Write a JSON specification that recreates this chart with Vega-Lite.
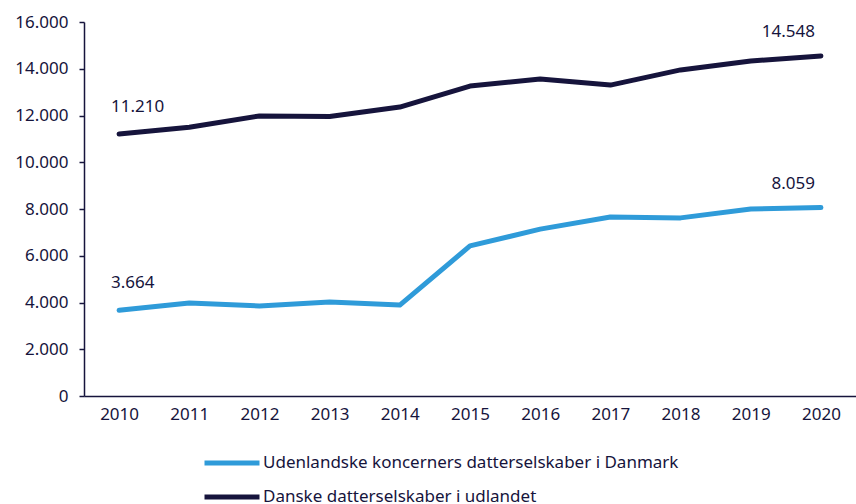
{
  "$schema": "https://vega.github.io/schema/vega-lite/v6.json",
  "width": 772,
  "height": 374,
  "autosize": {"type": "none"},
  "padding": {"left": 84, "top": 22, "right": 0, "bottom": 108},
  "background": "white",
  "config": {
    "view": {"stroke": null},
    "font": "Noto Sans",
    "locale": {"number": {"decimal": ",", "thousands": ".", "grouping": [3], "currency": ["", " kr."]}},
    "axis": {"domainColor": "#16143c", "tickColor": "#16143c", "labelColor": "#16143c", "labelFont": "Noto Sans", "labelFontSize": 17, "grid": false, "domainWidth": 1.5, "tickWidth": 1.5}
  },
  "data": {
    "values": [
      {"year": "2010", "series": "Udenlandske koncerners datterselskaber i Danmark", "value": 3664},
      {"year": "2011", "series": "Udenlandske koncerners datterselskaber i Danmark", "value": 3980},
      {"year": "2012", "series": "Udenlandske koncerners datterselskaber i Danmark", "value": 3850},
      {"year": "2013", "series": "Udenlandske koncerners datterselskaber i Danmark", "value": 4020},
      {"year": "2014", "series": "Udenlandske koncerners datterselskaber i Danmark", "value": 3890},
      {"year": "2015", "series": "Udenlandske koncerners datterselskaber i Danmark", "value": 6420},
      {"year": "2016", "series": "Udenlandske koncerners datterselskaber i Danmark", "value": 7140},
      {"year": "2017", "series": "Udenlandske koncerners datterselskaber i Danmark", "value": 7660},
      {"year": "2018", "series": "Udenlandske koncerners datterselskaber i Danmark", "value": 7620},
      {"year": "2019", "series": "Udenlandske koncerners datterselskaber i Danmark", "value": 8000},
      {"year": "2020", "series": "Udenlandske koncerners datterselskaber i Danmark", "value": 8059},
      {"year": "2010", "series": "Danske datterselskaber i udlandet", "value": 11210},
      {"year": "2011", "series": "Danske datterselskaber i udlandet", "value": 11500},
      {"year": "2012", "series": "Danske datterselskaber i udlandet", "value": 11980},
      {"year": "2013", "series": "Danske datterselskaber i udlandet", "value": 11960},
      {"year": "2014", "series": "Danske datterselskaber i udlandet", "value": 12360},
      {"year": "2015", "series": "Danske datterselskaber i udlandet", "value": 13260},
      {"year": "2016", "series": "Danske datterselskaber i udlandet", "value": 13560},
      {"year": "2017", "series": "Danske datterselskaber i udlandet", "value": 13300},
      {"year": "2018", "series": "Danske datterselskaber i udlandet", "value": 13950},
      {"year": "2019", "series": "Danske datterselskaber i udlandet", "value": 14330},
      {"year": "2020", "series": "Danske datterselskaber i udlandet", "value": 14548}
    ]
  },
  "encoding": {
    "x": {"field": "year", "type": "ordinal", "scale": {"type": "point", "padding": 0.5},
      "axis": {"title": null, "labelAngle": 0, "ticks": false, "labelPadding": 10}},
    "y": {"field": "value", "type": "quantitative", "scale": {"domain": [0, 16000], "nice": false},
      "axis": {"title": null, "values": [0, 2000, 4000, 6000, 8000, 10000, 12000, 14000, 16000], "format": ",d", "tickSize": 5, "labelPadding": 11}}
  },
  "layer": [
    {
      "mark": {"type": "line", "strokeWidth": 5, "strokeCap": "round", "strokeJoin": "round"},
      "encoding": {
        "color": {"field": "series", "type": "nominal",
          "scale": {"domain": ["Udenlandske koncerners datterselskaber i Danmark", "Danske datterselskaber i udlandet"], "range": ["#2f9bd9", "#16143c"]},
          "legend": {"title": null, "orient": "none", "legendX": 136, "legendY": 429, "direction": "vertical",
            "symbolType": "M-3,0H3", "symbolSize": 336, "symbolStrokeWidth": 5, "symbolStrokeCap": "round", "labelFontSize": 17, "labelColor": "#16143c", "labelOffset": 19, "rowPadding": 12, "labelLimit": 0, "labelFont": "Noto Sans"}}
      }
    },
    {
      "transform": [{"filter": "datum.year == '2010'"}],
      "mark": {"type": "text", "align": "left", "dx": -8, "dy": -27, "fontSize": 17, "color": "#16143c"},
      "encoding": {"text": {"field": "value", "type": "quantitative", "format": ",d"}}
    },
    {
      "transform": [{"filter": "datum.year == '2020'"}],
      "mark": {"type": "text", "align": "right", "dx": -6, "dy": -24, "fontSize": 17, "color": "#16143c"},
      "encoding": {"text": {"field": "value", "type": "quantitative", "format": ",d"}}
    }
  ]
}
